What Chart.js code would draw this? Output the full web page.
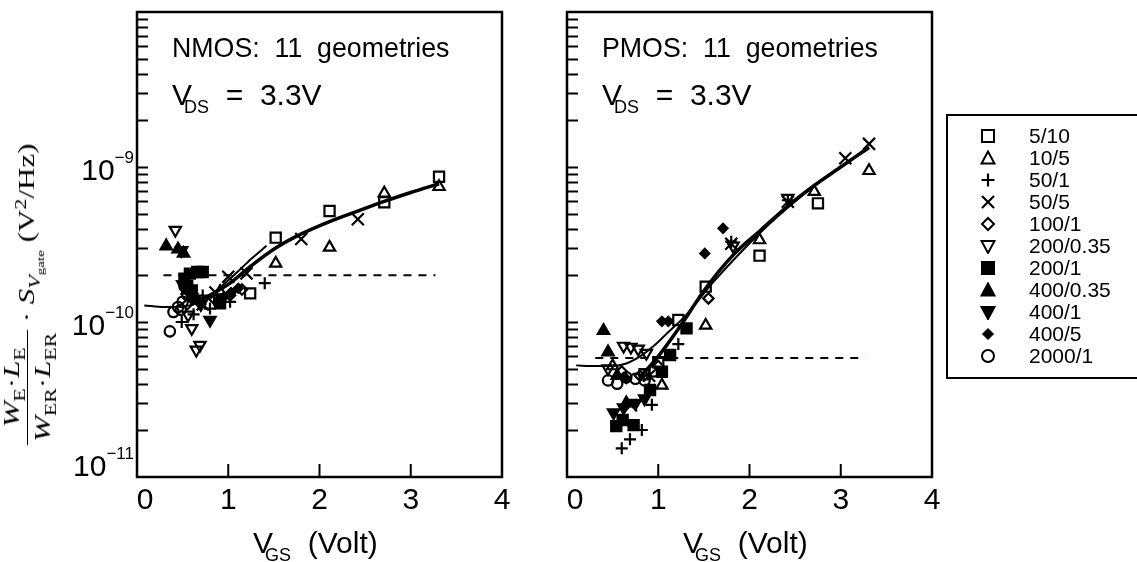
<!DOCTYPE html>
<html>
<head>
<meta charset="utf-8">
<script src="https://cdn.jsdelivr.net/npm/chart.js@4.4.0/dist/chart.umd.min.js"></script>
<style>
  body { margin: 0; background: #fff; width: 1137px; height: 562px; overflow: hidden; position: relative;
         font-family: "Liberation Sans", Arial, sans-serif; color: #000; }
  canvas { position: absolute; top: 0; }
  .txt { position: absolute; white-space: pre; line-height: 1; }
  .big { font-size: 28px; transform-origin: 0 0; transform: scaleX(0.955); }
  .v { font-size: 30px; }
  .sub { font-size: 18px; position: relative; top: 8px; margin-left: -8px; }
  #ytitle { position: absolute; left: 29px; top: 294px; white-space: nowrap; line-height: 1;
            font-family: "Liberation Serif", "DejaVu Serif", serif; font-size: 23px;
            transform: translate(-50%, -50%) rotate(-90deg) scale(1.35, 1); }
  #ytitle sub { font-size: 0.7em; line-height: 0; }
  #ytitle sup { font-size: 0.7em; line-height: 0; }
  .frac { display: inline-flex; flex-direction: column; vertical-align: middle; text-align: center; }
  .frac .num { border-bottom: 1.5px solid #000; padding: 0 2px 4px; }
  .frac .den { padding: 3px 2px 4px; }
  #legend { position: absolute; left: 946px; top: 114px; width: 210px; height: 261px; border: 2px solid #000; }
  .row { position: absolute; left: 0; height: 22px; font-size: 21px; line-height: 22px; }
  .row svg { position: absolute; left: 32px; top: 3px; }
  .row span { position: absolute; left: 81px; white-space: pre; }
</style>
</head>
<body>
<canvas id="nmos" width="520" height="562" style="left:0"></canvas>
<canvas id="pmos" width="410" height="562" style="left:540px"></canvas>

<div id="ytitle"><span class="frac"><span class="num"><i>W</i><sub>E</sub>·<i>L</i><sub>E</sub></span><span class="den"><i>W</i><sub>ER</sub>·<i>L</i><sub>ER</sub></span></span> · <i>S</i><sub><i>V</i><sub>gate</sub></sub> (V<sup>2</sup>/Hz)</div>

<div class="txt big" style="left:172px;top:34px">NMOS:  11  geometries</div>
<div class="txt v" style="left:172px;top:80px">V<span class="sub">DS</span>  =  3.3V</div>
<div class="txt v" style="left:253px;top:528px">V<span class="sub">GS</span>  (Volt)</div>

<div class="txt big" style="left:602px;top:34px">PMOS:  11  geometries</div>
<div class="txt v" style="left:602px;top:80px">V<span class="sub">DS</span>  =  3.3V</div>
<div class="txt v" style="left:683px;top:528px">V<span class="sub">GS</span>  (Volt)</div>

<div id="legend"></div>

<script>
// geometries (W/L) and their marker styles
const geometries = ['5/10', '10/5', '50/1', '50/5', '100/1', '200/0.35', '200/1', '400/0.35', '400/1', '400/5', '2000/1'];

// NMOS points [VGS, normalised S_Vgate]
const n5_10    = [[0.90,1.40e-10],[1.24,1.53e-10],[1.52,3.50e-10],[2.11,5.20e-10],[2.71,5.92e-10],[3.31,8.66e-10]];
const n10_5    = [[0.91,1.57e-10],[1.52,2.39e-10],[2.11,3.03e-10],[2.71,6.77e-10],[3.31,7.46e-10]];
const n50_1    = [[0.49,1.00e-10],[0.62,1.12e-10],[0.72,1.48e-10],[0.80,1.22e-10],[1.02,1.35e-10],[1.40,1.78e-10]];
const n50_5    = [[0.72,1.30e-10],[0.86,1.55e-10],[1.00,1.96e-10],[1.20,2.06e-10],[1.80,3.43e-10],[2.42,4.60e-10]];
const n100_1   = [[0.55,1.30e-10],[0.68,1.35e-10],[0.85,1.40e-10],[1.02,1.49e-10],[1.15,1.62e-10]];
const n200_035 = [[0.42,3.92e-10],[0.49,2.90e-10],[0.56,1.11e-10],[0.60,9.1e-11],[0.65,6.6e-11],[0.69,7.1e-11]];
const n200_1   = [[0.52,1.90e-10],[0.55,1.70e-10],[0.58,2.05e-10],[0.60,1.60e-10],[0.66,2.10e-10],[0.72,2.10e-10],[0.91,1.32e-10]];
const n400_035 = [[0.32,3.09e-10],[0.45,2.95e-10],[0.51,2.77e-10],[0.55,1.60e-10],[0.62,1.45e-10]];
const n400_1   = [[0.50,1.75e-10],[0.60,1.45e-10],[0.70,1.30e-10],[0.80,1.03e-10]];
const n400_5   = [[0.70,1.30e-10],[0.95,1.45e-10],[1.03,1.55e-10],[1.11,1.65e-10]];
const n2000_1  = [[0.36,8.7e-11],[0.40,1.16e-10],[0.45,1.25e-10],[0.48,1.20e-10],[0.50,1.35e-10],[0.52,1.70e-10],[0.55,1.50e-10]];

// PMOS points
const p5_10    = [[0.85,4.6e-11],[1.00,5.5e-11],[1.22,1.03e-10],[1.52,1.69e-10],[2.11,2.68e-10],[2.75,5.83e-10]];
const p10_5    = [[0.50,5.2e-11],[1.04,3.9e-11],[1.52,9.5e-11],[2.11,3.38e-10],[2.71,6.93e-10],[3.31,9.46e-10]];
const p50_1    = [[0.60,1.53e-11],[0.69,1.75e-11],[0.82,2.01e-11],[0.93,2.92e-11],[1.22,7.2e-11],[1.80,3.3e-10],[2.42,6.1e-10]];
const p50_5    = [[0.70,2.9e-11],[0.90,4.5e-11],[1.80,3.2e-10],[2.42,5.97e-10],[3.05,1.14e-9],[3.31,1.41e-9]];
const p100_1   = [[0.60,4.8e-11],[0.80,4.5e-11],[1.00,5.2e-11],[1.55,1.42e-10]];
const p200_035 = [[0.45,5.0e-11],[0.62,7.0e-11],[0.70,6.9e-11],[0.78,6.7e-11],[0.87,6.3e-11],[1.82,3.1e-10],[2.42,6.3e-10]];
const p200_1   = [[0.54,2.13e-11],[0.61,2.33e-11],[0.73,2.16e-11],[0.91,3.64e-11],[1.04,4.78e-11],[1.13,6.12e-11],[1.31,9.1e-11]];
const p400_035 = [[0.40,8.8e-11],[0.45,6.4e-11],[0.55,4.5e-11],[0.65,3.0e-11]];
const p400_1   = [[0.51,2.6e-11],[0.62,2.8e-11],[0.75,3.0e-11],[0.85,3.2e-11]];
const p400_5   = [[0.65,4.3e-11],[1.04,1.01e-10],[1.11,1.01e-10],[1.51,2.77e-10],[1.71,4.02e-10]];
const p2000_1  = [[0.45,4.2e-11],[0.55,4.0e-11],[0.65,4.4e-11],[0.75,4.3e-11],[0.85,4.2e-11],[0.95,4.8e-11]];

// model curves and noise floor (dashed)
const nFitA  = [[0.08,1.28e-10],[0.30,1.25e-10],[0.50,1.26e-10],[0.65,1.32e-10],[0.80,1.48e-10],[0.95,1.75e-10],[1.10,2.10e-10],[1.25,2.55e-10],[1.42,3.10e-10]];
const nFitB  = [[0.60,1.30e-10],[0.76,1.45e-10],[1.00,1.75e-10],[1.25,2.30e-10],[1.52,3.00e-10],[1.80,3.70e-10],[2.11,4.45e-10],[2.42,5.20e-10],[2.71,6.00e-10],[3.00,6.85e-10],[3.31,7.80e-10]];
const nFloor = [[0.29,2.0e-10],[3.27,2.0e-10]];
const pFitA  = [[0.10,5.25e-11],[0.30,5.2e-11],[0.50,5.2e-11],[0.65,5.4e-11],[0.80,6.0e-11],[0.95,7.0e-11],[1.10,8.5e-11],[1.30,1.1e-10],[1.60,1.8e-10],[1.90,2.8e-10],[2.20,4.2e-10],[2.50,6.0e-10],[2.80,8.3e-10],[3.31,1.32e-9]];
const pFitB  = [[0.80,4.4e-11],[1.00,6.0e-11],[1.22,9.0e-11],[1.52,1.65e-10],[1.82,2.7e-10],[2.12,3.9e-10],[2.42,5.6e-10],[2.71,7.6e-10],[3.00,1.0e-9],[3.31,1.34e-9]];
const pFloor = [[0.31,5.85e-11],[3.27,5.85e-11]];

// axis ticks
const xTicks = [0, 1, 2, 3, 4];
const yDecades = [1e-11, 1e-10, 1e-9];
const yDecadeExps = ['\u221211', '\u221210', '\u22129'];

// marker style per geometry: [pointStyle, rotation, filled, radius]
const markerStyles = [
  ['rect', 0, false, 7.2], ['triangle', 0, false, 6.5], ['cross', 0, false, 6], ['crossRot', 0, false, 8.5],
  ['rectRot', 0, false, 5.2], ['triangle', 180, false, 6.5], ['rect', 0, true, 7.2], ['triangle', 0, true, 6.5],
  ['triangle', 180, true, 6.5], ['rectRot', 0, true, 4.5], ['circle', 0, false, 5.2]
];

const nmosSets = [n5_10, n10_5, n50_1, n50_5, n100_1, n200_035, n200_1, n400_035, n400_1, n400_5, n2000_1];
const pmosSets = [p5_10, p10_5, p50_1, p50_5, p100_1, p200_035, p200_1, p400_035, p400_1, p400_5, p2000_1];

const toXY = arr => arr.map(p => ({ x: p[0], y: p[1] }));

function buildDatasets(sets, fitA, fitB, floor) {
  const ds = [];
  ds.push({ type: 'line', data: toXY(fitA), borderColor: '#000', borderWidth: 2, pointRadius: 0, tension: 0.4, cubicInterpolationMode: 'monotone' });
  ds.push({ type: 'line', data: toXY(fitB), borderColor: '#000', borderWidth: 3.5, pointRadius: 0, tension: 0.4, cubicInterpolationMode: 'monotone' });
  ds.push({ type: 'line', data: toXY(floor), borderColor: '#000', borderWidth: 2, borderDash: [8, 7], pointRadius: 0 });
  sets.forEach((s, i) => {
    const [style, rot, filled, r] = markerStyles[i];
    ds.push({
      type: 'scatter', label: geometries[i], data: toXY(s),
      pointStyle: style, rotation: rot, pointRadius: r, borderWidth: 2.2,
      borderColor: '#000', backgroundColor: filled ? '#000' : 'rgba(255,255,255,0)'
    });
  });
  return ds;
}

// frame, inward ticks and tick labels
const axesPlugin = {
  id: 'axesPlugin',
  afterDraw(chart, args, opts) {
    const { ctx, chartArea: a, scales: { x, y } } = chart;
    ctx.save();
    ctx.strokeStyle = '#000';
    ctx.lineWidth = 2.5;
    ctx.strokeRect(a.left, a.top, a.right - a.left, a.bottom - a.top);
    ctx.lineWidth = 2;
    ctx.beginPath();
    xTicks.forEach(v => {
      if (v === x.min || v === x.max) return;
      const px = x.getPixelForValue(v);
      ctx.moveTo(px, a.bottom); ctx.lineTo(px, a.bottom - 13);
    });
    for (let d = -11; d <= -9; d++) {
      for (let k = 1; k <= 9; k++) {
        const v = k * Math.pow(10, d);
        if (v <= y.min * 1.0001) continue;
        const py = Math.round(y.getPixelForValue(v)) + 0.5;
        ctx.moveTo(a.left, py); ctx.lineTo(a.left + 11, py);
      }
    }
    ctx.stroke();

    ctx.fillStyle = '#000';
    ctx.font = '30px "Liberation Sans", Arial, sans-serif';
    ctx.textAlign = 'center';
    ctx.textBaseline = 'alphabetic';
    xTicks.forEach(v => {
      const px = x.getPixelForValue(v) + (v === 0 ? 8 : 0);
      ctx.fillText(String(v), px, a.bottom + 32);
    });

    if (opts.yLabels) {
      yDecades.forEach((v, i) => {
        const py = y.getPixelForValue(v);
        const base = Math.min(py + 13, a.bottom - 1);
        ctx.font = '17px "Liberation Sans", Arial, sans-serif';
        ctx.textAlign = 'right';
        ctx.fillText(yDecadeExps[i], a.left - 3, base - 17);
        const ew = ctx.measureText(yDecadeExps[i]).width;
        ctx.font = '30px "Liberation Sans", Arial, sans-serif';
        ctx.fillText('10', a.left - 3 - ew, base);
      });
    }
    ctx.restore();
  }
};

function makeChart(id, sets, fitA, fitB, floor, padLeft, yLabels) {
  return new Chart(document.getElementById(id), {
    data: { datasets: buildDatasets(sets, fitA, fitB, floor) },
    options: {
      responsive: false,
      animation: false,
      events: [],
      layout: { padding: { left: padLeft, right: 18, top: 12, bottom: 85 } },
      plugins: { legend: { display: false }, tooltip: { enabled: false }, axesPlugin: { yLabels } },
      scales: {
        x: { type: 'linear', min: 0, max: 4, display: false },
        y: { type: 'logarithmic', min: 1e-11, max: 1e-8, display: false }
      }
    },
    plugins: [axesPlugin]
  });
}

makeChart('nmos', nmosSets, nFitA, nFitB, nFloor, 137, true);
makeChart('pmos', pmosSets, pFitA, pFitB, pFloor, 27, false);

// legend (HTML text with small svg markers)
function markerSvg(i) {
  const [style, rot, filled, r] = markerStyles[i];
  const f = filled ? '#000' : 'none';
  let shape = '';
  if (style === 'rect') shape = `<rect x="2" y="2" width="12" height="12" fill="${f}" stroke="#000" stroke-width="2"/>`;
  else if (style === 'triangle') shape = rot ? `<polygon points="1.5,3 14.5,3 8,15" fill="${f}" stroke="#000" stroke-width="2"/>`
                                             : `<polygon points="8,1.5 14.5,13.5 1.5,13.5" fill="${f}" stroke="#000" stroke-width="2"/>`;
  else if (style === 'cross') shape = `<path d="M8 1.5V14.5M1.5 8H14.5" stroke="#000" stroke-width="2.2"/>`;
  else if (style === 'crossRot') shape = `<path d="M2 2L14 14M14 2L2 14" stroke="#000" stroke-width="2.2"/>`;
  else if (style === 'rectRot') shape = filled ? `<polygon points="8,2.5 13.5,8 8,13.5 2.5,8" fill="#000" stroke="#000" stroke-width="1"/>`
                                               : `<polygon points="8,2 14,8 8,14 2,8" fill="none" stroke="#000" stroke-width="2"/>`;
  else shape = `<circle cx="8" cy="8" r="6" fill="none" stroke="#000" stroke-width="2"/>`;
  return `<svg width="16" height="16" viewBox="0 0 16 16">${shape}</svg>`;
}
const legend = document.getElementById('legend');
geometries.forEach((g, i) => {
  const row = document.createElement('div');
  row.className = 'row';
  row.style.top = (9 + 22 * i) + 'px';
  row.innerHTML = markerSvg(i) + `<span>${g}</span>`;
  legend.appendChild(row);
});
</script>
</body>
</html>
